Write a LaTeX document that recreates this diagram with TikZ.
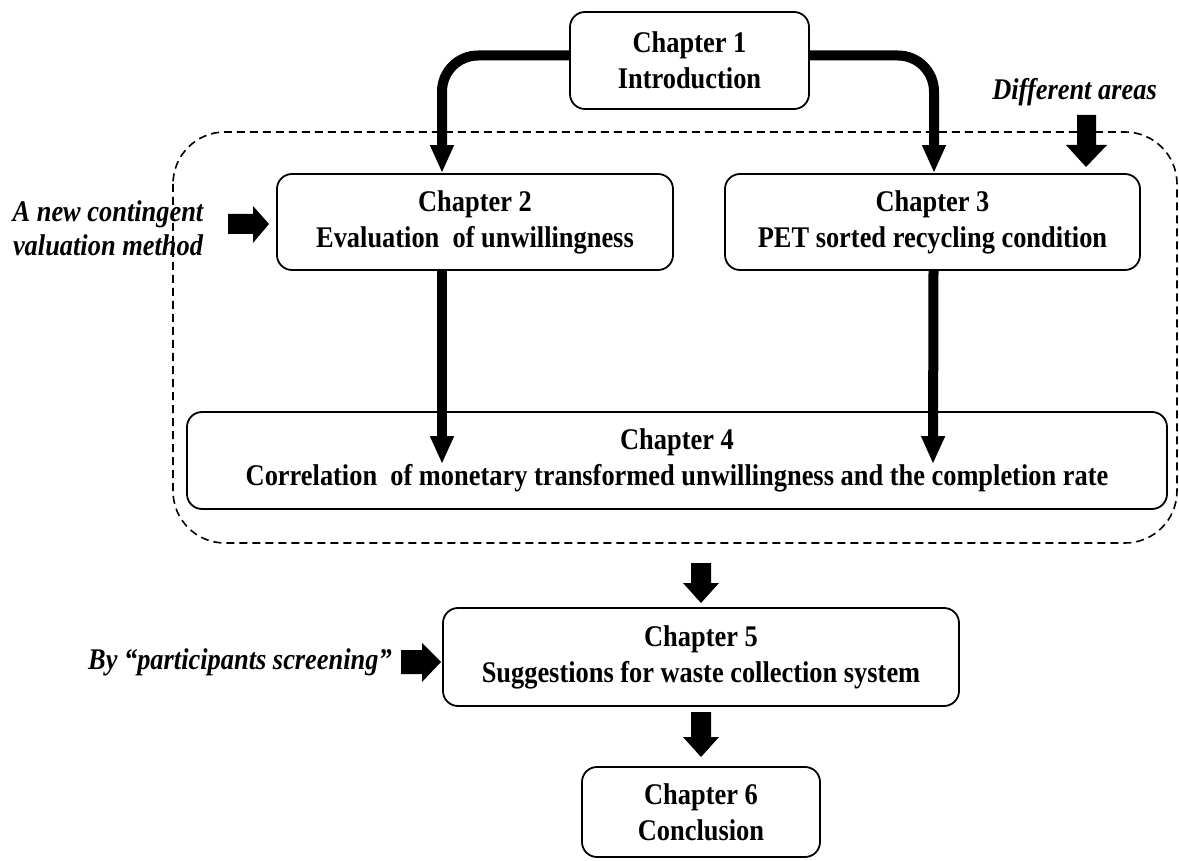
\documentclass[tikz,border=0pt]{standalone}
\usepackage{fontspec}
\setmainfont{Liberation Serif}[FakeStretch=0.88]
\usetikzlibrary{arrows.meta}

\begin{document}
\begin{tikzpicture}[x=1pt,y=-1pt,
  chapter/.style={draw, line width=1.8pt, rounded corners=15pt, align=center,
    inner sep=0pt, font=\bfseries\fontsize{30}{36}\selectfont},
  note/.style={align=center, inner sep=0pt,
    font=\bfseries\itshape\fontsize{30}{34}\selectfont},
  flow/.style={line width=10pt, -{Triangle[width=22pt,length=28pt]}},
  fatarrow/.style={fill=black},
  areaframe/.style={line width=1.6pt, dash pattern=on 8pt off 5pt, rounded corners=52pt}]
\useasboundingbox (0,0) rectangle (1179,861);

% dashed frame around chapters 2-4
\draw[areaframe] (173,132) rectangle (1177,543);

% chapter boxes
\node[chapter, minimum width=239pt, minimum height=97pt] (c1) at (689.5,60.5) {Chapter 1\\Introduction};
\node[chapter, minimum width=396pt, minimum height=96pt] (c2) at (475,222) {Chapter 2\\Evaluation\ \ of unwillingness};
\node[chapter, minimum width=415pt, minimum height=96pt] (c3) at (932.5,222) {Chapter 3\\PET sorted recycling condition};
\node[chapter, minimum width=980pt, minimum height=97pt] (c4) at (677,460.5) {Chapter 4\\Correlation\ \ of monetary transformed unwillingness and the completion rate};
\node[chapter, minimum width=516pt, minimum height=98pt] (c5) at (701,657) {Chapter 5\\Suggestions for waste collection system};
\node[chapter, minimum width=238pt, minimum height=90pt] (c6) at (701,812) {Chapter 6\\Conclusion};

% side notes
\node[note] (n2) at (108,228) {A new contingent\\valuation method};
\node[note, anchor=east] (n3) at (1157,92) {Different areas};
\node[note, anchor=east] (n5) at (392,662) {By “participants screening”};

% thick connectors
\draw[flow, rounded corners=36pt] ([yshift=5pt]c1.west) -| ([xshift=-33pt]c2.north);
\draw[flow, rounded corners=36pt] ([yshift=5pt]c1.east) -| ([xshift=1.5pt]c3.north);
\draw[flow] ([xshift=-33pt]c2.south) -- ([xshift=-235pt,yshift=-53pt]c4.north);
\draw[flow] ([xshift=1pt]c3.south) -- ([xshift=256pt,yshift=-53pt]c4.north);

% block arrows
\fill[fatarrow] (228,214) -- (253,214) -- (253,206) -- (269,224) -- (253,243) -- (253,234) -- (228,234) -- cycle;
\fill[fatarrow] (1077,115) -- (1096,115) -- (1096,145) -- (1107,145) -- (1086,167) -- (1066,145) -- (1077,145) -- cycle;
\fill[fatarrow] (691,563) -- (711,563) -- (711,583) -- (719,583) -- (701,603) -- (683,583) -- (691,583) -- cycle;
\fill[fatarrow] (691,712) -- (711,712) -- (711,737) -- (719,737) -- (701,757) -- (683,737) -- (691,737) -- cycle;
\fill[fatarrow] (401,650) -- (422,650) -- (422,643) -- (441,662) -- (422,682) -- (422,674) -- (401,674) -- cycle;
\end{tikzpicture}
\end{document}
